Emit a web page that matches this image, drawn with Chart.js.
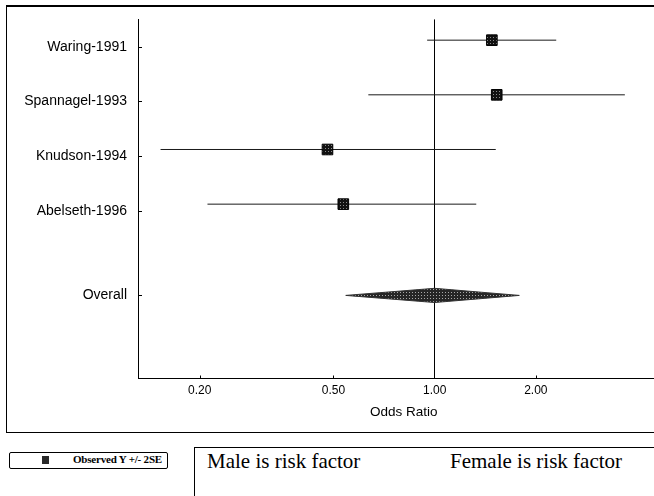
<!DOCTYPE html>
<html>
<head>
<meta charset="utf-8">
<script src="https://cdn.jsdelivr.net/npm/chart.js@4.4.1/dist/chart.umd.min.js"></script>
<style>
  html, body { margin: 0; padding: 0; background: #fff; }
  body { width: 654px; height: 496px; overflow: hidden; position: relative; }
  #frame { position: absolute; left: 6px; top: 5px; width: 720px; height: 428px; border: 1px solid #000; border-top-width: 2px; box-sizing: border-box; }
  #plot { position: absolute; left: 0; top: 0; }
  #legend { position: absolute; left: 9px; top: 452px; width: 159px; height: 17px; border: 1px solid #000; border-radius: 2px; box-sizing: border-box; }
  #legend .icon { position: absolute; left: 32px; top: 3px; width: 7px; height: 8px; background: #2a2a2a; }
  #legend .txt { position: absolute; left: 63px; top: 1px; font: bold 11px "Liberation Serif", serif; line-height: 11px; letter-spacing: -0.2px; white-space: nowrap; }
  #sides { position: absolute; left: 194px; top: 447px; width: 600px; height: 100px; border-left: 1px solid #000; border-top: 1px solid #000; }
  .side { position: absolute; top: 3px; font: 21px "Liberation Serif", serif; line-height: 21px; white-space: nowrap; }
</style>
</head>
<body>
<div id="frame"></div>
<canvas id="plot" width="700" height="432"></canvas>
<div id="legend"><div class="icon"></div><div class="txt">Observed Y +/- 2SE</div></div>
<div id="sides">
  <div class="side" style="left: 12px;">Male is risk factor</div>
  <div class="side" style="left: 255px;">Female is risk factor</div>
</div>
<script>
// Study names and odds ratios with their +/- 2SE limits
const studies = ['Waring-1991', 'Spannagel-1993', 'Knudson-1994', 'Abelseth-1996'];
const oddsRatio = [1.48, 1.53, 0.48, 0.535];
const lowerCI = [0.95, 0.635, 0.153, 0.211];
const upperCI = [2.30, 3.68, 1.52, 1.33];

// Pooled estimate
const overallLabel = 'Overall';
const overallOR = 1.00;
const overallLower = 0.544;
const overallUpper = 1.786;

// Tick values on the odds ratio axis
const xTickValues = [0.2, 0.5, 1, 2];

Chart.defaults.font.family = '"Liberation Sans", Arial, sans-serif';
Chart.defaults.color = '#000';

// Row layout on the category axis (1 = top study)
const studyRows = studies.map((s, i) => i + 1);
const overallRow = 5.55;
const markLift = 0.12;      // study marks sit a little above their label tick
const diamondHalf = 0.13;   // half height of the pooled diamond
const rowValues = studyRows.concat([overallRow]);
const rowLabels = studies.concat([overallLabel]);

// Small dotted fills for the squares and the diamond
function dotPattern(base, dot, step) {
    const tile = document.createElement('canvas');
    tile.width = tile.height = step;
    const t = tile.getContext('2d');
    t.fillStyle = base;
    t.fillRect(0, 0, step, step);
    t.fillStyle = dot;
    t.fillRect(1, 1, 1, 1);
    return t.createPattern(tile, 'repeat');
}

const ctx = document.getElementById('plot').getContext('2d');
const markerFill = dotPattern('#111', '#8a8a8a', 3);
const diamondFill = dotPattern('#262626', '#a8a8a8', 3);

// One horizontal line per study for the interval
const whiskers = studies.map((name, i) => ({
    type: 'line',
    label: name,
    data: [
        { x: lowerCI[i], y: studyRows[i] - markLift },
        { x: upperCI[i], y: studyRows[i] - markLift }
    ],
    borderColor: '#1a1a1a',
    borderWidth: 1,
    pointRadius: 0,
    order: 2
}));

const markers = {
    type: 'scatter',
    label: 'Observed Y +/- 2SE',
    data: studies.map((name, i) => ({ x: oddsRatio[i], y: studyRows[i] - markLift })),
    pointStyle: 'rect',
    pointRadius: 7.5,
    backgroundColor: markerFill,
    borderColor: '#000',
    borderWidth: 1,
    order: 1
};

const diamond = {
    type: 'line',
    label: overallLabel,
    data: [
        { x: overallLower, y: overallRow },
        { x: overallOR, y: overallRow - diamondHalf },
        { x: overallUpper, y: overallRow },
        { x: overallOR, y: overallRow + diamondHalf },
        { x: overallLower, y: overallRow }
    ],
    fill: 'shape',
    backgroundColor: diamondFill,
    borderColor: '#333',
    borderWidth: 1,
    pointRadius: 0,
    tension: 0,
    order: 1
};

// Short inward ticks on both axes
const innerTicks = {
    id: 'innerTicks',
    afterDraw(chart) {
        const { ctx, chartArea, scales: { x, y } } = chart;
        ctx.save();
        ctx.strokeStyle = '#000';
        ctx.lineWidth = 1;
        ctx.beginPath();
        xTickValues.forEach(v => {
            if (v === 1) return;
            const px = Math.round(x.getPixelForValue(v)) + 0.5;
            ctx.moveTo(px, chartArea.bottom);
            ctx.lineTo(px, chartArea.bottom - 3);
        });
        rowValues.forEach(v => {
            const py = Math.round(y.getPixelForValue(v)) + 0.5;
            ctx.moveTo(chartArea.left, py);
            ctx.lineTo(chartArea.left + 4, py);
        });
        ctx.stroke();
        ctx.restore();
    }
};

new Chart(ctx, {
    type: 'scatter',
    data: { datasets: whiskers.concat([markers, diamond]) },
    plugins: [innerTicks],
    options: {
        responsive: false,
        animation: false,
        layout: { padding: { left: 0, top: 15, right: 30.4, bottom: 0 } },
        plugins: {
            legend: { display: false },
            tooltip: { enabled: false }
        },
        scales: {
            x: {
                type: 'logarithmic',
                min: 0.1311,
                max: 5,
                afterBuildTicks: scale => { scale.ticks = xTickValues.map(v => ({ value: v })); },
                afterFit: scale => { scale.height = 53.5; },
                grid: {
                    drawTicks: false,
                    color: c => (c.tick && c.tick.value === 1 ? '#000' : 'rgba(0,0,0,0)'),
                    lineWidth: 1
                },
                border: { display: true, color: '#000', width: 1 },
                ticks: {
                    padding: 5,
                    autoSkip: false,
                    maxRotation: 0,
                    font: { size: 12 },
                    callback: v => Number(v).toFixed(2)
                },
                title: {
                    display: true,
                    text: 'Odds Ratio',
                    font: { size: 13.5 },
                    padding: { top: 0, bottom: 12 }
                }
            },
            y: {
                type: 'linear',
                reverse: true,
                min: 0.5,
                max: 7.07,
                afterBuildTicks: scale => { scale.ticks = rowValues.map(v => ({ value: v })); },
                afterFit: scale => { scale.width = 138; },
                grid: { drawOnChartArea: false, drawTicks: false },
                border: { display: true, color: '#000', width: 1 },
                ticks: {
                    padding: 11,
                    autoSkip: false,
                    font: { size: 14 },
                    callback: v => rowLabels[rowValues.indexOf(v)]
                }
            }
        }
    }
});
</script>
</body>
</html>
